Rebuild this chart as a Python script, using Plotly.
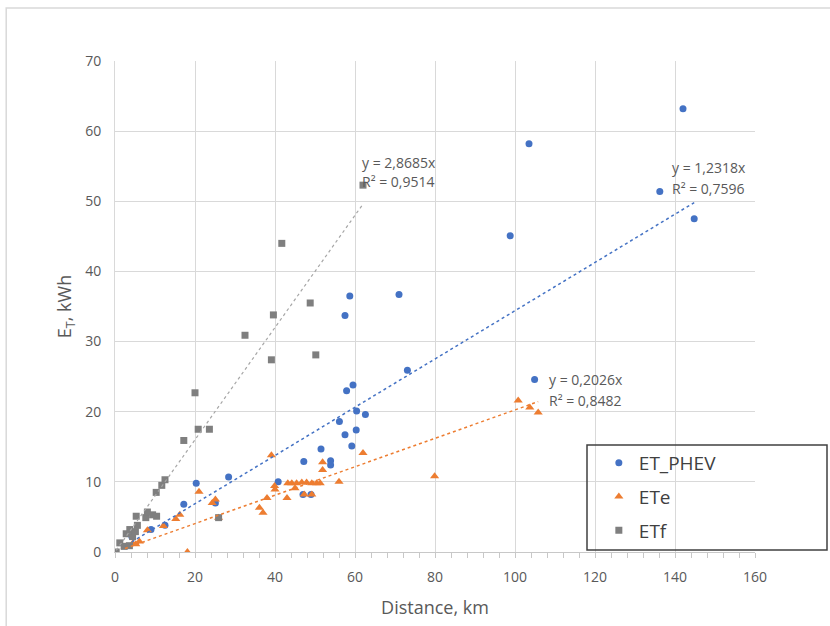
import plotly.graph_objects as go

# ---- data ----
phev_x = [4.2, 9.0, 12.5, 17.2, 20.3, 25.1, 28.4, 40.8, 47.0, 49.0, 47.2, 51.5, 53.9, 53.9,
          56.1, 57.5, 59.2, 60.3, 60.4, 62.6, 57.9, 59.5, 57.5, 58.7, 71.0, 73.1, 98.8,
          103.5, 104.9, 136.2, 142.0, 144.8]
phev_y = [2.2, 3.2, 3.8, 6.8, 9.8, 7.0, 10.7, 10.0, 8.2, 8.2, 12.9, 14.7, 13.0, 12.4,
          18.6, 16.7, 15.1, 17.4, 20.1, 19.6, 23.0, 23.8, 33.7, 36.5, 36.7, 25.9, 45.1,
          58.2, 24.6, 51.4, 63.2, 47.5]

ete_x = [2.5, 4.4, 5.2, 6.1, 8.1, 12.1, 15.2, 16.2, 18.1, 21.0, 24.3, 25.1, 25.9, 36.1,
         37.0, 38.0, 39.1, 40.0, 39.9, 43.0, 43.2, 44.2, 45.4, 46.7, 47.9, 49.2, 50.4,
         51.3, 45.0, 47.3, 49.2, 51.9, 51.9, 56.0, 62.0, 79.9, 100.8, 103.7, 105.8]
ete_y = [0.8, 1.2, 1.1, 1.5, 3.1, 3.7, 4.7, 5.3, 0.0, 8.6, 7.0, 7.5, 4.9, 6.3,
         5.6, 7.7, 13.8, 8.9, 9.4, 7.7, 9.8, 9.8, 9.8, 9.9, 9.9, 9.8, 9.8,
         9.8, 9.1, 8.2, 8.2, 12.8, 11.7, 10.0, 14.1, 10.8, 21.6, 20.6, 19.9]

etf_x = [0.3, 1.2, 2.3, 3.6, 2.8, 4.4, 3.7, 5.1, 5.6, 5.3, 7.7, 8.1, 9.4, 10.4, 10.3,
         11.7, 12.5, 17.2, 20.0, 20.8, 23.6, 25.9, 32.5, 39.1, 39.6, 41.7, 48.8, 50.2, 62.0]
etf_y = [0.0, 1.3, 0.8, 0.9, 2.6, 2.2, 3.2, 2.9, 3.8, 5.1, 4.9, 5.7, 5.3, 5.1, 8.5,
         9.5, 10.3, 15.9, 22.7, 17.5, 17.5, 4.9, 30.9, 27.4, 33.8, 44.0, 35.5, 28.1, 52.3]

series_names = ["ET_PHEV", "ETe", "ETf"]
# slopes of the dotted trend lines as drawn in the picture
trend_slopes = [0.344, 0.2026, 0.80]
trend_labels = [("y = 1,2318x", "R² = 0,7596"),
                ("y = 0,2026x", "R² = 0,8482"),
                ("y = 2,8685x", "R² = 0,9514")]
label_pos = [(138.7, 54.8, 51.8), (108.0, 24.6, 21.6), (61.3, 55.6, 52.8)]

x_ticks = [0, 20, 40, 60, 80, 100, 120, 140, 160]
y_ticks = [0, 10, 20, 30, 40, 50, 60, 70]

colors = ["#4472C4", "#ED7D31", "#7F7F7F"]
line_colors = ["#4472C4", "#ED7D31", "#A6A6A6"]
line_widths = [1.5, 1.5, 1.2]
symbols = ["circle", "triangle-up", "square"]
sizes = [7, 8, 7]

xs = [phev_x, ete_x, etf_x]
ys = [phev_y, ete_y, etf_y]

fig = go.Figure()
for i in range(3):
    fig.add_trace(go.Scatter(
        x=xs[i], y=ys[i], mode="markers", name=series_names[i], legendgroup=series_names[i],
        marker=dict(color=colors[i], symbol=symbols[i], size=sizes[i], line=dict(width=0)),
    ))
for i in range(3):
    x0, x1 = min(xs[i]), max(xs[i])
    fig.add_trace(go.Scatter(
        x=[x0, x1], y=[trend_slopes[i] * x0, trend_slopes[i] * x1], mode="lines",
        line=dict(color=line_colors[i], width=line_widths[i], dash="dot"),
        showlegend=False, hoverinfo="skip",
    ))

txt_font = dict(family="Open Sans, Liberation Sans, sans-serif", size=14, color="#595959")
for i in range(3):
    lx, ly1, ly2 = label_pos[i]
    fig.add_annotation(x=lx, y=ly1, xref="x", yref="y", text=trend_labels[i][0],
                       showarrow=False, xanchor="left", yanchor="middle", font=txt_font)
    fig.add_annotation(x=lx, y=ly2, xref="x", yref="y", text=trend_labels[i][1],
                       showarrow=False, xanchor="left", yanchor="middle", font=txt_font)

axis_font = dict(family="Open Sans, Liberation Sans, sans-serif", size=14, color="#595959")
title_font = dict(family="Open Sans, Liberation Sans, sans-serif", size=18, color="#595959")

fig.update_layout(
    width=830, height=626,
    margin=dict(l=115, r=75, t=61, b=74),
    paper_bgcolor="white", plot_bgcolor="white",
    showlegend=True,
    legend=dict(
        x=0.756, y=0.220, xanchor="left", yanchor="top",
        bgcolor="rgba(0,0,0,0)", borderwidth=0,
        font=dict(family="Open Sans, Liberation Sans, sans-serif", size=19, color="#404040"),
        tracegroupgap=6, itemsizing="trace",
    ),
    xaxis=dict(
        range=[0, 160], tickvals=x_ticks, ticktext=[str(v) for v in x_ticks],
        showgrid=True, gridcolor="#d9d9d9", gridwidth=1,
        showline=True, linecolor="#c8c8c8", linewidth=1,
        ticks="outside", ticklen=5, tickcolor="#c8c8c8",
        minor=dict(dtick=4, ticks="outside", ticklen=5, tickcolor="#c8c8c8", showgrid=False),
        tickfont=axis_font, zeroline=False, ticklabelstandoff=7,
        title=dict(text="Distance, km", font=title_font, standoff=16),
    ),
    yaxis=dict(
        range=[0, 70], tickvals=y_ticks, ticktext=[str(v) for v in y_ticks],
        showgrid=True, gridcolor="#d9d9d9", gridwidth=1,
        showline=True, linecolor="#d9d9d9", linewidth=1,
        ticks="", tickfont=axis_font, zeroline=False, ticklabelstandoff=10,
        title=dict(text="E<sub>T</sub>, kWh", font=title_font, standoff=8),
    ),
    shapes=[
        dict(type="rect", xref="paper", yref="paper",
             x0=-0.170, x1=1.14, y0=-0.16, y1=1.108,
             line=dict(color="#d9d9d9", width=1.5), fillcolor="rgba(0,0,0,0)",
             layer="below"),
        dict(type="rect", xref="paper", yref="paper",
             x0=0.7375, x1=1.1125, y0=0.004, y1=0.218,
             line=dict(color="#404040", width=1.5), fillcolor="rgba(0,0,0,0)",
             layer="above"),
    ],
)

fig.write_html("out.html")
